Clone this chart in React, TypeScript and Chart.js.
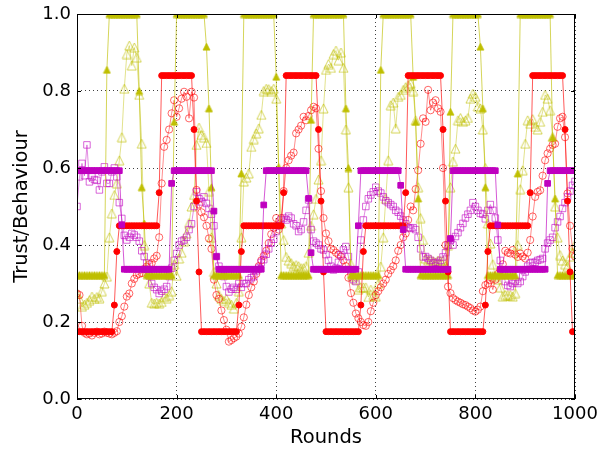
import React, { useEffect, useRef } from 'react';
import { Chart, registerables } from 'chart.js';

Chart.register(...registerables);

// Sampling interval of the plotted rounds
const ROUND_STEP = 5;
const X_TICKS = [0, 200, 400, 600, 800, 1000];
const Y_TICKS = [0, 0.2, 0.4, 0.6, 0.8, 1.0];

// ---- Red agent ----
const redBehaviour = [
  0.175, 0.175, 0.175, 0.175, 0.175, 0.175, 0.175, 0.175, 0.175, 0.175,
  0.175, 0.175, 0.175, 0.175, 0.175, 0.244, 0.383, 0.45, 0.45, 0.45,
  0.45, 0.45, 0.45, 0.45, 0.45, 0.45, 0.45, 0.45, 0.45, 0.45,
  0.45, 0.45, 0.45, 0.536, 0.84, 0.84, 0.84, 0.84, 0.84, 0.84,
  0.84, 0.84, 0.84, 0.84, 0.84, 0.84, 0.84, 0.70, 0.514, 0.33,
  0.175, 0.175, 0.175, 0.175, 0.175, 0.175, 0.175, 0.175, 0.175, 0.175,
  0.175, 0.175, 0.175, 0.175, 0.175, 0.244, 0.383, 0.45, 0.45, 0.45,
  0.45, 0.45, 0.45, 0.45, 0.45, 0.45, 0.45, 0.45, 0.45, 0.45,
  0.45, 0.45, 0.45, 0.536, 0.84, 0.84, 0.84, 0.84, 0.84, 0.84,
  0.84, 0.84, 0.84, 0.84, 0.84, 0.84, 0.84, 0.70, 0.514, 0.33,
  0.175, 0.175, 0.175, 0.175, 0.175, 0.175, 0.175, 0.175, 0.175, 0.175,
  0.175, 0.175, 0.175, 0.175, 0.244, 0.383, 0.45, 0.45, 0.45, 0.45,
  0.45, 0.45, 0.45, 0.45, 0.45, 0.45, 0.45, 0.45, 0.45, 0.45,
  0.45, 0.45, 0.536, 0.84, 0.84, 0.84, 0.84, 0.84, 0.84, 0.84,
  0.84, 0.84, 0.84, 0.84, 0.84, 0.84, 0.84, 0.70, 0.514, 0.33,
  0.175, 0.175, 0.175, 0.175, 0.175, 0.175, 0.175, 0.175, 0.175, 0.175,
  0.175, 0.175, 0.175, 0.175, 0.244, 0.383, 0.45, 0.45, 0.45, 0.45,
  0.45, 0.45, 0.45, 0.45, 0.45, 0.45, 0.45, 0.45, 0.45, 0.45,
  0.45, 0.45, 0.536, 0.84, 0.84, 0.84, 0.84, 0.84, 0.84, 0.84,
  0.84, 0.84, 0.84, 0.84, 0.84, 0.84, 0.70, 0.514, 0.33, 0.175,
  0.175,
];
const redTrust = [
  0.274, 0.27, 0.19, 0.172, 0.168, 0.17, 0.165, 0.172, 0.175, 0.168,
  0.17, 0.175, 0.172, 0.17, 0.168, 0.172, 0.176, 0.2, 0.215, 0.24,
  0.266, 0.274, 0.3, 0.312, 0.322, 0.325, 0.327, 0.338, 0.344, 0.35,
  0.353, 0.365, 0.372, 0.42, 0.56, 0.655, 0.673, 0.70, 0.742, 0.776,
  0.733, 0.755, 0.78, 0.798, 0.785, 0.729, 0.798, 0.783, 0.543, 0.505,
  0.485, 0.472, 0.45, 0.417, 0.39, 0.31, 0.27, 0.26, 0.23, 0.205,
  0.18, 0.149, 0.153, 0.158, 0.162, 0.17, 0.188, 0.212, 0.245, 0.27,
  0.29, 0.305, 0.325, 0.345, 0.36, 0.372, 0.385, 0.405, 0.428, 0.445,
  0.47, 0.44, 0.47, 0.54, 0.6, 0.62, 0.632, 0.64, 0.69, 0.70,
  0.71, 0.733, 0.724, 0.735, 0.75, 0.759, 0.755, 0.65, 0.54, 0.47,
  0.43, 0.41, 0.39, 0.387, 0.38, 0.375, 0.37, 0.36, 0.345, 0.315,
  0.275, 0.25, 0.222, 0.21, 0.2, 0.192, 0.19, 0.2, 0.228, 0.25,
  0.27, 0.28, 0.29, 0.3, 0.31, 0.325, 0.335, 0.345, 0.36, 0.385,
  0.4, 0.42, 0.43, 0.465, 0.5, 0.49, 0.545, 0.594, 0.663, 0.729,
  0.72, 0.803, 0.75, 0.77, 0.776, 0.755, 0.746, 0.6, 0.4, 0.292,
  0.275, 0.262, 0.257, 0.253, 0.25, 0.246, 0.244, 0.24, 0.236, 0.23,
  0.227, 0.232, 0.24, 0.28, 0.296, 0.3, 0.309, 0.284, 0.31, 0.325,
  0.335, 0.35, 0.385, 0.38, 0.378, 0.387, 0.375, 0.369, 0.378, 0.37,
  0.365, 0.38, 0.413, 0.474, 0.525, 0.538, 0.542, 0.58, 0.62, 0.638,
  0.65, 0.66, 0.663, 0.707, 0.729, 0.733, 0.68, 0.534, 0.45, 0.39,
  0.37,
];

// ---- Yellow agent ----
const yellowBehaviour = [
  0.322, 0.322, 0.322, 0.322, 0.322, 0.322, 0.322, 0.322, 0.322, 0.322,
  0.322, 0.322, 0.855, 1, 1, 1, 1, 1, 1, 1,
  1, 1, 1, 1, 1, 0.8, 0.55, 0.456, 0.322, 0.322,
  0.322, 0.322, 0.322, 0.322, 0.322, 0.322, 0.322, 0.322, 0.322, 0.72,
  1, 1, 1, 1, 1, 1, 1, 1, 1, 1,
  1, 1, 0.915, 0.755, 0.55, 0.322, 0.322, 0.322, 0.322, 0.322,
  0.322, 0.322, 0.322, 0.322, 0.322, 0.322, 0.586, 1, 1, 1,
  1, 1, 1, 1, 1, 1, 1, 1, 1, 1,
  0.837, 0.6, 0.322, 0.322, 0.322, 0.322, 0.322, 0.322, 0.322, 0.322,
  0.322, 0.322, 0.322, 0.322, 0.725, 1, 1, 1, 1, 1,
  1, 1, 1, 1, 1, 1, 1, 1, 0.755, 0.6,
  0.322, 0.322, 0.322, 0.322, 0.322, 0.322, 0.322, 0.322, 0.322, 0.322,
  0.322, 0.322, 0.855, 1, 1, 1, 1, 1, 1, 1,
  1, 1, 1, 1, 1, 0.837, 0.72, 0.521, 0.322, 0.322,
  0.322, 0.322, 0.322, 0.322, 0.322, 0.322, 0.322, 0.322, 0.322, 0.322,
  0.746, 1, 1, 1, 1, 1, 1, 1, 1, 1,
  1, 1, 0.915, 0.755, 0.55, 0.322, 0.322, 0.322, 0.322, 0.322,
  0.322, 0.322, 0.322, 0.322, 0.322, 0.322, 0.322, 0.586, 1, 1,
  1, 1, 1, 1, 1, 1, 1, 1, 1, 1,
  1, 0.68, 0.521, 0.322, 0.322, 0.322, 0.322, 0.322, 0.322, 0.322,
  0.322,
];
const yellowTrust = [
  0.274, 0.26, 0.24, 0.245, 0.25, 0.257, 0.266, 0.26, 0.265, 0.262,
  0.28, 0.3, 0.318, 0.42, 0.482, 0.53, 0.56, 0.62, 0.68, 0.806,
  0.896, 0.918, 0.866, 0.913, 0.887, 0.79, 0.663, 0.4, 0.33, 0.3,
  0.25, 0.248, 0.25, 0.248, 0.252, 0.265, 0.262, 0.27, 0.28, 0.35,
  0.32, 0.365, 0.38, 0.41, 0.43, 0.457, 0.5, 0.53, 0.66, 0.705,
  0.686, 0.68, 0.665, 0.54, 0.42, 0.33, 0.3, 0.27, 0.26, 0.255,
  0.26, 0.25, 0.245, 0.235, 0.25, 0.28, 0.42, 0.565, 0.575, 0.586,
  0.655, 0.675, 0.69, 0.703, 0.738, 0.8, 0.806, 0.805, 0.8, 0.806,
  0.78, 0.6, 0.456, 0.413, 0.369, 0.36, 0.353, 0.345, 0.348, 0.345,
  0.34, 0.34, 0.345, 0.38, 0.45, 0.48, 0.52, 0.57, 0.62, 0.755,
  0.855, 0.87, 0.86, 0.896, 0.905, 0.88, 0.9, 0.86, 0.7, 0.55,
  0.35, 0.318, 0.31, 0.284, 0.29, 0.29, 0.29, 0.265, 0.284, 0.27,
  0.266, 0.3, 0.344, 0.42, 0.52, 0.62, 0.763, 0.77, 0.703, 0.785,
  0.79, 0.803, 0.81, 0.815, 0.82, 0.8, 0.724, 0.55, 0.47, 0.413,
  0.365, 0.36, 0.362, 0.358, 0.355, 0.36, 0.358, 0.36, 0.345, 0.4,
  0.55, 0.617, 0.65, 0.724, 0.73, 0.72, 0.724, 0.73, 0.78, 0.793,
  0.785, 0.76, 0.755, 0.7, 0.6, 0.456, 0.404, 0.35, 0.318, 0.31,
  0.29, 0.266, 0.27, 0.27, 0.27, 0.266, 0.275, 0.4, 0.545, 0.594,
  0.663, 0.724, 0.715, 0.727, 0.707, 0.7, 0.72, 0.746, 0.79, 0.78,
  0.75, 0.681, 0.5, 0.42, 0.374, 0.36, 0.35, 0.344, 0.37, 0.38,
  0.4,
];

// ---- Purple agent ----
const purpleBehaviour = [
  0.593, 0.593, 0.593, 0.593, 0.593, 0.593, 0.593, 0.593, 0.593, 0.593,
  0.593, 0.593, 0.593, 0.593, 0.593, 0.593, 0.593, 0.593, 0.452, 0.337,
  0.337, 0.337, 0.337, 0.337, 0.337, 0.337, 0.337, 0.337, 0.337, 0.337,
  0.337, 0.337, 0.337, 0.337, 0.337, 0.337, 0.337, 0.337, 0.56, 0.593,
  0.593, 0.593, 0.593, 0.593, 0.593, 0.593, 0.593, 0.593, 0.593, 0.593,
  0.593, 0.593, 0.593, 0.593, 0.593, 0.488, 0.37, 0.337, 0.337, 0.337,
  0.337, 0.337, 0.337, 0.337, 0.337, 0.337, 0.337, 0.337, 0.337, 0.337,
  0.337, 0.337, 0.337, 0.337, 0.337, 0.504, 0.593, 0.593, 0.593, 0.593,
  0.593, 0.593, 0.593, 0.593, 0.593, 0.593, 0.593, 0.593, 0.593, 0.593,
  0.593, 0.593, 0.593, 0.521, 0.38, 0.337, 0.337, 0.337, 0.337, 0.337,
  0.337, 0.337, 0.337, 0.337, 0.337, 0.337, 0.337, 0.337, 0.337, 0.337,
  0.337, 0.337, 0.337, 0.45, 0.593, 0.593, 0.593, 0.593, 0.593, 0.593,
  0.593, 0.593, 0.593, 0.593, 0.593, 0.593, 0.593, 0.593, 0.593, 0.593,
  0.555, 0.44, 0.337, 0.337, 0.337, 0.337, 0.337, 0.337, 0.337, 0.337,
  0.337, 0.337, 0.337, 0.337, 0.337, 0.337, 0.337, 0.337, 0.337, 0.337,
  0.417, 0.593, 0.593, 0.593, 0.593, 0.593, 0.593, 0.593, 0.593, 0.593,
  0.593, 0.593, 0.593, 0.593, 0.593, 0.593, 0.593, 0.593, 0.593, 0.452,
  0.337, 0.337, 0.337, 0.337, 0.337, 0.337, 0.337, 0.337, 0.337, 0.337,
  0.337, 0.337, 0.337, 0.337, 0.337, 0.337, 0.337, 0.337, 0.337, 0.56,
  0.593, 0.593, 0.593, 0.593, 0.593, 0.593, 0.593, 0.593, 0.593, 0.593,
  0.593,
];
const purpleTrust = [
  0.5, 0.577, 0.612, 0.58, 0.66, 0.564, 0.577, 0.57, 0.568, 0.543,
  0.59, 0.603, 0.56, 0.56, 0.59, 0.6, 0.577, 0.51, 0.469, 0.425,
  0.413, 0.42, 0.43, 0.426, 0.42, 0.41, 0.385, 0.37, 0.353, 0.32,
  0.3, 0.29, 0.284, 0.274, 0.28, 0.285, 0.292, 0.318, 0.34, 0.36,
  0.378, 0.4, 0.41, 0.413, 0.42, 0.44, 0.455, 0.5, 0.538, 0.52,
  0.512, 0.525, 0.508, 0.495, 0.48, 0.45, 0.37, 0.345, 0.33, 0.318,
  0.292, 0.278, 0.285, 0.29, 0.285, 0.3, 0.29, 0.3, 0.3, 0.31,
  0.315, 0.318, 0.333, 0.34, 0.355, 0.362, 0.376, 0.39, 0.405, 0.415,
  0.435, 0.45, 0.465, 0.47, 0.465, 0.475, 0.47, 0.455, 0.45, 0.435,
  0.44, 0.46, 0.49, 0.517, 0.44, 0.41, 0.405, 0.4, 0.39, 0.387,
  0.375, 0.36, 0.345, 0.335, 0.34, 0.355, 0.375, 0.387, 0.396, 0.37,
  0.335, 0.31, 0.305, 0.33, 0.413, 0.465, 0.5, 0.52, 0.53, 0.538,
  0.55, 0.54, 0.535, 0.525, 0.515, 0.51, 0.505, 0.5, 0.49, 0.485,
  0.475, 0.465, 0.455, 0.445, 0.443, 0.445, 0.44, 0.42, 0.39, 0.369,
  0.37, 0.365, 0.36, 0.353, 0.355, 0.352, 0.36, 0.369, 0.38, 0.4,
  0.413, 0.4, 0.422, 0.432, 0.445, 0.456, 0.47, 0.48, 0.49, 0.51,
  0.5, 0.49, 0.482, 0.48, 0.468, 0.49, 0.505, 0.49, 0.47, 0.413,
  0.36, 0.327, 0.305, 0.295, 0.292, 0.3, 0.305, 0.3, 0.305, 0.318,
  0.33, 0.345, 0.353, 0.355, 0.355, 0.36, 0.362, 0.365, 0.39, 0.405,
  0.413, 0.42, 0.445, 0.46, 0.474, 0.495, 0.51, 0.525, 0.54, 0.555,
  0.565,
];

const RED = '255,0,0';
const YELLOW = '191,191,0';
const PURPLE = '191,0,191';

const toPoints = (vals: number[]) => vals.map((y, i) => ({ x: i * ROUND_STEP, y }));

// matplotlib-like "^" marker (centred on its bounding box)
function triangleMarker(size: number, rgb: string, filled: boolean) {
  const pad = 1;
  const w = size + pad * 2;
  const c = document.createElement('canvas');
  c.width = w;
  c.height = w;
  const g = c.getContext('2d') as CanvasRenderingContext2D;
  g.beginPath();
  g.moveTo(w / 2, pad);
  g.lineTo(w - pad, w - pad);
  g.lineTo(pad, w - pad);
  g.closePath();
  if (filled) {
    g.fillStyle = `rgb(${rgb})`;
    g.fill();
    g.strokeStyle = `rgb(${rgb})`;
    g.lineWidth = 0.8;
    g.stroke();
  } else {
    g.strokeStyle = `rgba(${rgb},0.65)`;
    g.lineWidth = 1;
    g.stroke();
  }
  return c;
}

const framePlugin = {
  id: 'frameAndTicks',
  afterDraw(chart: any) {
    const { ctx, chartArea, scales } = chart;
    const { left, top, right, bottom } = chartArea;
    ctx.save();
    ctx.strokeStyle = '#000';
    ctx.lineWidth = 1;
    ctx.setLineDash([]);
    ctx.strokeRect(Math.round(left) + 0.5, Math.round(top) + 0.5, Math.round(right - left) - 1, Math.round(bottom - top) - 1);
    ctx.beginPath();
    const tl = 4;
    X_TICKS.forEach((v) => {
      const x = Math.round(scales.x.getPixelForValue(v)) + 0.5;
      ctx.moveTo(x, bottom);
      ctx.lineTo(x, bottom - tl);
      ctx.moveTo(x, top);
      ctx.lineTo(x, top + tl);
    });
    Y_TICKS.forEach((v) => {
      const y = Math.round(scales.y.getPixelForValue(v)) + 0.5;
      ctx.moveTo(left, y);
      ctx.lineTo(left + tl, y);
      ctx.moveTo(right, y);
      ctx.lineTo(right - tl, y);
    });
    ctx.stroke();
    ctx.restore();
  },
};

function series(label: string, vals: number[], rgb: string, style: any, radius: number, filled: boolean) {
  return {
    label,
    data: toPoints(vals),
    showLine: true,
    borderColor: `rgba(${rgb},${filled ? 0.65 : 0.45})`,
    borderWidth: 1,
    pointStyle: style,
    pointRadius: radius,
    pointHoverRadius: radius,
    pointBackgroundColor: filled ? `rgb(${rgb})` : 'rgba(0,0,0,0)',
    pointBorderColor: filled ? `rgb(${rgb})` : `rgba(${rgb},0.6)`,
    pointBorderWidth: 1,
    tension: 0,
    fill: false,
  };
}

export default function App() {
  const canvasRef = useRef<HTMLCanvasElement | null>(null);

  useEffect(() => {
    if (!canvasRef.current) return;
    const triFilled = triangleMarker(7, YELLOW, true);
    const triOpen = triangleMarker(9, YELLOW, false);
    const chart = new Chart(canvasRef.current, {
      type: 'line',
      data: {
        datasets: [
          series('Purple behaviour', purpleBehaviour, PURPLE, 'rect', 4.0, true),
          series('Red behaviour', redBehaviour, RED, 'circle', 3.0, true),
          series('Yellow behaviour', yellowBehaviour, YELLOW, triFilled, 3.5, true),
          series('Purple trust', purpleTrust, PURPLE, 'rect', 4.6, false),
          series('Red trust', redTrust, RED, 'circle', 3.6, false),
          series('Yellow trust', yellowTrust, YELLOW, triOpen, 4.5, false),
        ] as any,
      },
      options: {
        animation: false,
        responsive: false,
        maintainAspectRatio: false,
        events: [],
        layout: { padding: { top: 14, right: 24, bottom: 0, left: 0 } },
        plugins: { legend: { display: false }, tooltip: { enabled: false } },
        scales: {
          x: {
            type: 'linear',
            min: 0,
            max: 1000,
            afterBuildTicks: (s: any) => {
              s.ticks = X_TICKS.map((v) => ({ value: v }));
            },
            afterFit: (s: any) => {
              s.height = 54;
              s.paddingLeft = 0;
              s.paddingRight = 0;
            },
            ticks: {
              color: '#000',
              padding: 5,
              maxRotation: 0,
              autoSkip: false,
              font: { family: 'DejaVu Sans', size: 18 },
              callback: (v: any) => String(v),
            },
            grid: { color: 'rgba(0,0,0,0.75)', lineWidth: 1, drawTicks: false },
            border: { display: false, dash: [1, 3] },
            title: {
              display: true,
              text: 'Rounds',
              color: '#000',
              font: { family: 'DejaVu Sans', size: 19.5 },
              padding: { top: 0, bottom: 3 },
            },
          },
          y: {
            type: 'linear',
            min: 0,
            max: 1,
            afterBuildTicks: (s: any) => {
              s.ticks = Y_TICKS.map((v) => ({ value: v }));
            },
            afterFit: (s: any) => {
              s.width = 77;
              s.paddingTop = 0;
              s.paddingBottom = 0;
            },
            ticks: {
              color: '#000',
              padding: 6,
              autoSkip: false,
              font: { family: 'DejaVu Sans', size: 18 },
              callback: (v: any) => Number(v).toFixed(1),
            },
            grid: { color: 'rgba(0,0,0,0.75)', lineWidth: 1, drawTicks: false },
            border: { display: false, dash: [1, 3] },
            title: {
              display: true,
              text: 'Trust/Behaviour',
              color: '#000',
              font: { family: 'DejaVu Sans', size: 19.5 },
              padding: { top: 10, bottom: 0 },
            },
          },
        },
      } as any,
      plugins: [framePlugin],
    });
    return () => chart.destroy();
  }, []);

  return (
    <div style={{ position: 'absolute', left: 0, top: 0, width: 599, height: 453, background: '#fff' }}>
      <canvas ref={canvasRef} width={599} height={453} style={{ display: 'block' }} />
    </div>
  );
}
